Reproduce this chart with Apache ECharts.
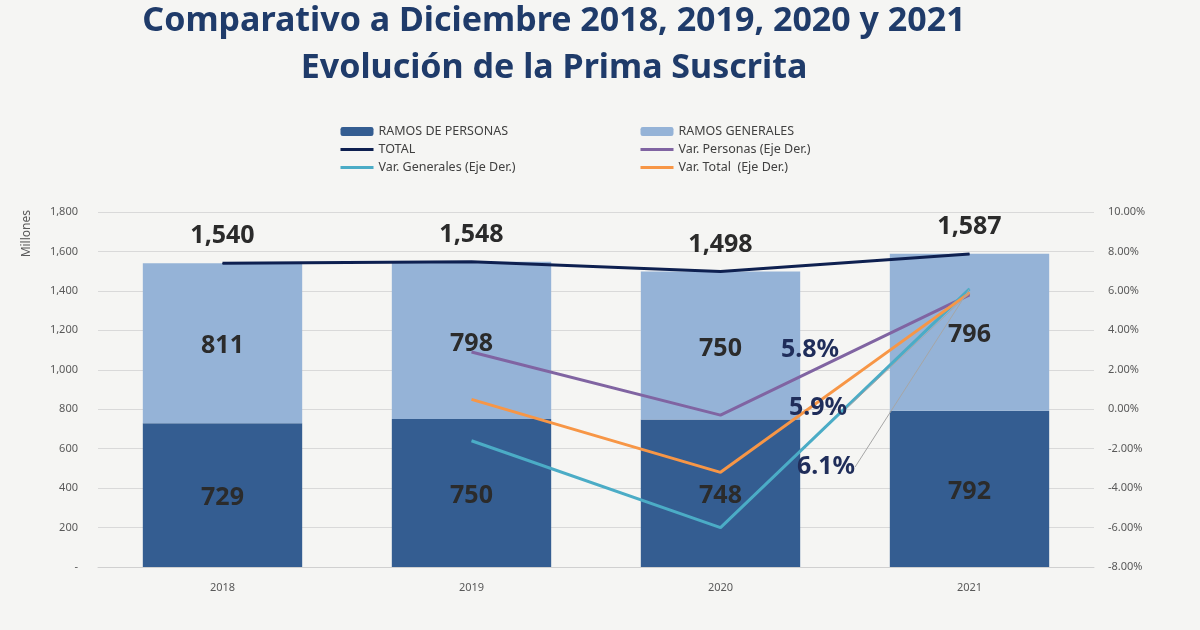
<!DOCTYPE html>
<html>
<head>
<meta charset="utf-8">
<script src="https://cdn.jsdelivr.net/npm/echarts@6/dist/echarts.min.js"></script>
<style>
  html, body { margin: 0; padding: 0; background: #f5f5f3; }
  #chart { width: 1200px; height: 630px; }
</style>
</head>
<body>
<div id="chart"></div>
<script>
const years = ['2018', '2019', '2020', '2021'];
const personas = [729, 750, 748, 792];
const generales = [811, 798, 750, 796];
const total = [1540, 1548, 1498, 1587];
// variaciones en % (eje derecho)
const varPersonas = [null, 2.9, -0.3, 5.8];
const varGenerales = [null, -1.6, -6.0, 6.1];
const varTotal = [null, 0.5, -3.2, 5.9];

const labelFont = "'Noto Sans', sans-serif";
const pctLabel = {
    show: true,
    fontFamily: labelFont,
    fontWeight: 'bold',
    fontSize: 25,
    color: '#1f2d5a',
    formatter: p => p.value.toFixed(1) + '%'
};

// solo el último punto lleva símbolo y etiqueta
function lastLabeled(arr) {
    return arr.map((v, i) => i === arr.length - 1
        ? { value: v, symbol: 'circle', symbolSize: 1, label: pctLabel }
        : v);
}

// entrada de leyenda para líneas: sin símbolo
const lineEntry = name => ({ name: name, itemStyle: { opacity: 0 }, lineStyle: { width: 3 } });

const myChart = echarts.init(document.getElementById('chart'));
const option = {
    backgroundColor: '#f5f5f3',
    textStyle: { fontFamily: labelFont },
    title: {
        text: 'Comparativo a Diciembre 2018, 2019, 2020 y 2021\nEvolución de la Prima Suscrita',
        left: 549,
        textAlign: 'center',
        top: -7,
        textStyle: {
            fontFamily: labelFont,
            fontSize: 34,
            fontWeight: 'bold',
            color: '#1f3b6a',
            lineHeight: 47
        }
    },
    legend: [
        {
            left: 334, top: 120, orient: 'vertical',
            itemWidth: 33, itemHeight: 9, itemGap: 5,
            textStyle: { fontSize: 12.5, color: '#404040' },
            data: ['RAMOS DE PERSONAS', lineEntry('TOTAL'), lineEntry('Var. Generales (Eje Der.)')]
        },
        {
            left: 634, top: 120, orient: 'vertical',
            itemWidth: 33, itemHeight: 9, itemGap: 5,
            textStyle: { fontSize: 12.5, color: '#404040' },
            data: ['RAMOS GENERALES', lineEntry('Var. Personas (Eje Der.)'), lineEntry('Var. Total  (Eje Der.)')]
        }
    ],
    graphic: [{
        type: 'text',
        left: 21, top: 210,
        rotation: Math.PI / 2,
        style: { text: 'Millones', fontSize: 12, fill: '#595959', fontFamily: labelFont }
    }],
    grid: { left: 98, right: 106, top: 212, bottom: 63 },
    xAxis: {
        type: 'category',
        data: years,
        axisTick: { show: false },
        axisLine: { lineStyle: { color: '#d0d0d0' } },
        axisLabel: { color: '#595959', fontSize: 11, margin: 15 }
    },
    yAxis: [
        {
            type: 'value',
            min: 0, max: 1800, interval: 200,
            axisLine: { show: false },
            axisTick: { show: false },
            splitLine: { lineStyle: { color: '#d9d9d9' } },
            axisLabel: {
                color: '#595959', fontSize: 11, margin: 20,
                formatter: v => v === 0 ? '-' : v.toLocaleString('en-US')
            }
        },
        {
            type: 'value',
            min: -8, max: 10, interval: 2,
            axisLine: { show: false },
            axisTick: { show: false },
            splitLine: { show: false },
            axisLabel: {
                color: '#595959', fontSize: 11, margin: 14,
                formatter: v => v.toFixed(2) + '%'
            }
        }
    ],
    series: [
        {
            name: 'RAMOS DE PERSONAS',
            type: 'bar',
            stack: 'prima',
            barWidth: '64%',
            data: personas,
            itemStyle: { color: '#345d91' },
            label: {
                show: true, position: 'inside', offset: [0, 3],
                fontWeight: 'bold', fontSize: 25, color: '#2b2b2b'
            }
        },
        {
            name: 'RAMOS GENERALES',
            type: 'bar',
            stack: 'prima',
            data: generales,
            itemStyle: { color: '#95b3d7' },
            label: {
                show: true, position: 'inside', offset: [0, 3],
                fontWeight: 'bold', fontSize: 25, color: '#2b2b2b'
            }
        },
        {
            name: 'TOTAL',
            type: 'line',
            data: total,
            symbol: 'circle',
            symbolSize: 1,
            lineStyle: { color: '#0e2050', width: 3 },
            itemStyle: { color: '#0e2050' },
            z: 5,
            label: {
                show: true, position: 'top', distance: 14,
                fontWeight: 'bold', fontSize: 25, color: '#2b2b2b',
                formatter: p => p.value.toLocaleString('en-US')
            }
        },
        {
            name: 'Var. Personas (Eje Der.)',
            type: 'line',
            yAxisIndex: 1,
            data: lastLabeled(varPersonas),
            symbol: 'none',
            lineStyle: { color: '#8064a2', width: 3 },
            itemStyle: { color: '#8064a2' },
            z: 4,
            labelLayout: { x: 810, y: 350, align: 'center', verticalAlign: 'middle' }
        },
        {
            name: 'Var. Generales (Eje Der.)',
            type: 'line',
            yAxisIndex: 1,
            data: lastLabeled(varGenerales),
            symbol: 'none',
            lineStyle: { color: '#4bacc6', width: 3 },
            itemStyle: { color: '#4bacc6' },
            z: 4,
            labelLine: { show: true, lineStyle: { color: '#a6a6a6', width: 1 } },
            labelLayout: { x: 826, y: 467, align: 'center', verticalAlign: 'middle' }
        },
        {
            name: 'Var. Total  (Eje Der.)',
            type: 'line',
            yAxisIndex: 1,
            data: lastLabeled(varTotal),
            symbol: 'none',
            lineStyle: { color: '#f79646', width: 3 },
            itemStyle: { color: '#f79646' },
            z: 4,
            labelLine: { show: true, lineStyle: { color: '#a6a6a6', width: 1 } },
            labelLayout: { x: 818, y: 408, align: 'center', verticalAlign: 'middle' }
        }
    ]
};

myChart.setOption(option);
</script>
</body>
</html>
